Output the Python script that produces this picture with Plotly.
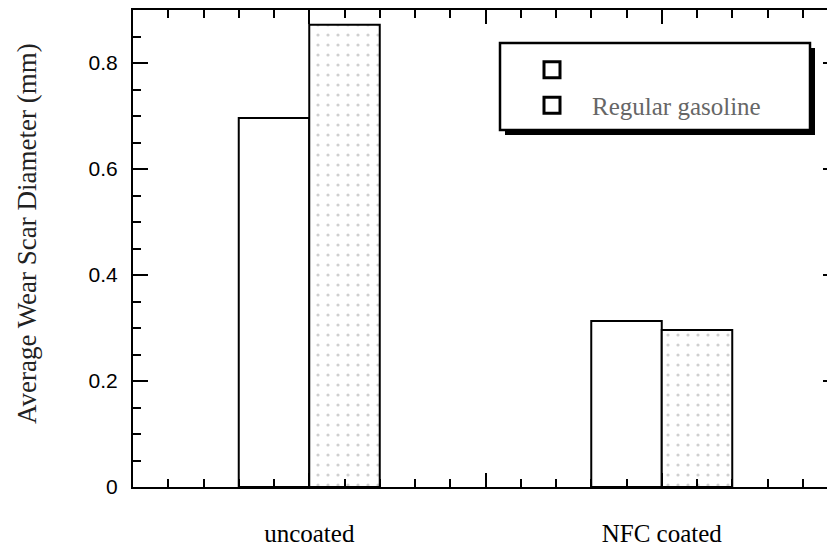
import plotly.graph_objects as go

# ---- data ----
categories = ["uncoated", "NFC coated"]
cat_pos = [1, 2]
series_names = [" ", "Regular gasoline"]
values_plain = [0.696, 0.313]
values_dotted = [0.872, 0.296]
y_title = "Average Wear Scar Diameter (mm)"

# page offset of the plot div (default body margin)
OFF = 8
W, H = 830, 542
L, R, T, B = 125, 0, 2, 63
pw, ph = W - L - R, H - T - B
PL, PB = OFF + L, OFF + H - B   # page coords of plot left / bottom

def px(x):
    return (x - PL) / pw

def py(y):
    return (PB - y) / ph

fig = go.Figure()

fig.add_trace(go.Bar(
    x=cat_pos, y=values_plain, name=series_names[0], showlegend=False,
    marker=dict(color="white", line=dict(color="black", width=2)),
))
fig.add_trace(go.Bar(
    x=cat_pos, y=values_dotted, name=series_names[1], showlegend=False,
    marker=dict(color="white", line=dict(color="black", width=2),
                pattern=dict(shape=".", size=10, solidity=0.08,
                             fgcolor="#a0a0a0", bgcolor="white")),
))

# legend entries (open squares as in the original)
for nm in series_names:
    fig.add_trace(go.Scatter(
        x=[None], y=[None], mode="markers", name=nm,
        marker=dict(symbol="square-open", size=17, color="black",
                    line=dict(width=3, color="black")),
    ))

# legend frame with drop shadow
fig.add_shape(type="rect", xref="paper", yref="paper",
              x0=px(505), x1=px(815), y0=py(135), y1=py(48),
              fillcolor="black", line=dict(width=0), layer="above")
fig.add_shape(type="rect", xref="paper", yref="paper",
              x0=px(500), x1=px(810), y0=py(130), y1=py(43),
              fillcolor="white", line=dict(color="black", width=2.5), layer="above")

# y-axis title
fig.add_annotation(text=y_title, xref="paper", yref="paper",
                   x=px(27), y=py(234), textangle=-90, showarrow=False,
                   xanchor="center", yanchor="middle",
                   font=dict(family="Liberation Serif", size=27, color="#222222"))

fig.update_layout(
    width=W, height=H,
    margin=dict(l=L, r=R, t=T, b=B, autoexpand=False),
    paper_bgcolor="white", plot_bgcolor="white",
    barmode="group", bargap=0.6, bargroupgap=0,
    showlegend=True,
    legend=dict(x=px(512), y=py(47), xanchor="left", yanchor="top",
                bgcolor="rgba(0,0,0,0)", borderwidth=0, itemwidth=70,
                font=dict(family="Liberation Serif", size=25, color="#666666"),
                tracegroupgap=0, itemclick=False),
    xaxis=dict(range=[0.5, 2.5], tickvals=[1, 1.5, 2],
               ticktext=[categories[0], "", categories[1]],
               ticks="inside", ticklen=14, tickwidth=2, tickcolor="black",
               minor=dict(dtick=0.1, tick0=0.5, ticks="inside", ticklen=8,
                          tickwidth=2, tickcolor="black", showgrid=False),
               showline=True, linewidth=2, linecolor="black", mirror="allticks",
               showgrid=False, zeroline=False,
               tickfont=dict(family="Liberation Serif", size=25, color="black"),
               ticklabelstandoff=23),
    yaxis=dict(range=[0, 0.9], dtick=0.2, tick0=0,
               ticks="inside", ticklen=15, tickwidth=2, tickcolor="black",
               minor=dict(dtick=0.05, tick0=0, ticks="inside", ticklen=8,
                          tickwidth=2, tickcolor="black", showgrid=False),
               showline=True, linewidth=2, linecolor="black", mirror="allticks",
               showgrid=False, zeroline=False,
               tickfont=dict(family="Liberation Sans", size=21, color="black"),
               ticklabelstandoff=9),
)

fig.write_html("out.html")
